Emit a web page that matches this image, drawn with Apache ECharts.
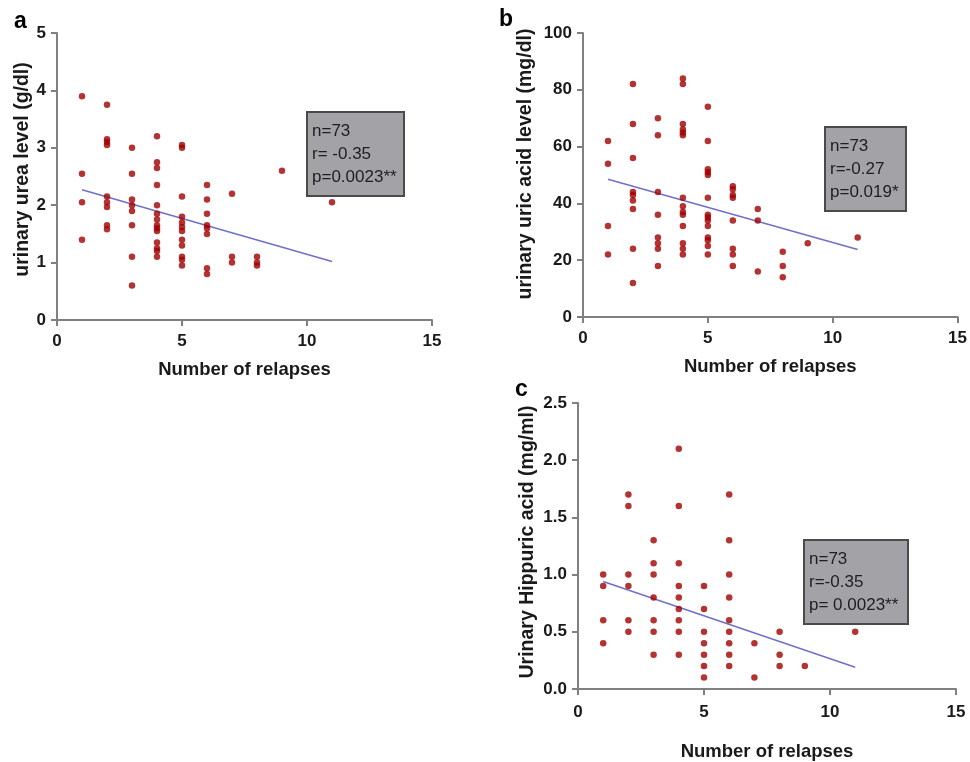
<!DOCTYPE html>
<html>
<head>
<meta charset="utf-8">
<script src="https://cdn.jsdelivr.net/npm/echarts@6/dist/echarts.min.js"></script>
<style>
html,body{margin:0;padding:0;background:#fff;}
#chart{width:970px;height:762px;}
</style>
</head>
<body>
<div id="chart"></div>
<script>
// ---------- DATA ----------
// Panel a: urinary urea level (g/dl) vs number of relapses
var relapsesA = [1,1,1,1, 2,2,2,2,2,2,2,2,2, 3,3,3,3,3,3,3,3,
  4,4,4,4,4,4,4,4,4,4,4,4,4,4, 5,5,5,5,5,5,5,5,5,5,5,5,
  6,6,6,6,6,6,6,6, 7,7,7, 8,8,8, 9, 11];
var ureaA = [3.9,2.55,2.05,1.4, 3.75,3.15,3.1,3.05,2.15,2.05,1.97,1.65,1.58, 3.0,2.55,2.1,2.0,1.9,1.65,1.1,0.6,
  3.2,2.75,2.65,2.35,2.0,1.85,1.75,1.65,1.6,1.55,1.35,1.25,1.2,1.1, 3.05,3.0,2.15,1.8,1.7,1.62,1.55,1.4,1.3,1.1,1.05,0.95,
  2.35,2.1,1.85,1.65,1.6,1.5,0.9,0.8, 2.2,1.1,1.0, 1.1,1.0,0.95, 2.6, 2.05];
var fitA = [[1,2.27],[11,1.02]];
var statsA = ['n=73','r= -0.35','p=0.0023**'];

// Panel b: urinary uric acid level (mg/dl)
var relapsesB = [1,1,1,1, 2,2,2,2,2,2,2,2,2, 3,3,3,3,3,3,3,3,
  4,4,4,4,4,4,4,4,4,4,4,4,4,4, 5,5,5,5,5,5,5,5,5,5,5,5,5,5,
  6,6,6,6,6,6,6,6, 7,7,7, 8,8,8, 9, 11];
var uricB = [62,54,32,22, 82,68,56,44,43,41,38,24,12, 70,64,44,36,28,26,24,18,
  84,82,68,66,65,64,42,39,37,36,32,26,24,22, 74,62,52,51,50,42,36,35,34,32,28,27,25,22,
  46,45,43,42,34,24,22,18, 38,34,16, 23,18,14, 26, 28];
var fitB = [[1,48.5],[11,23.8]];
var statsB = ['n=73','r=-0.27','p=0.019*'];

// Panel c: Urinary Hippuric acid (mg/ml)
var relapsesC = [1,1,1,1, 2,2,2,2,2,2, 3,3,3,3,3,3,3,
  4,4,4,4,4,4,4,4,4, 5,5,5,5,5,5,5, 6,6,6,6,6,6,6,6,6,
  7,7, 8,8,8, 9, 11];
var hippC = [1.0,0.9,0.6,0.4, 1.7,1.6,1.0,0.9,0.6,0.5, 1.3,1.1,1.0,0.8,0.6,0.5,0.3,
  2.1,1.6,1.1,0.9,0.8,0.7,0.6,0.5,0.3, 0.9,0.7,0.5,0.4,0.3,0.2,0.1, 1.7,1.3,1.0,0.8,0.6,0.5,0.4,0.3,0.2,
  0.4,0.1, 0.5,0.3,0.2, 0.2, 0.5];
var fitC = [[1,0.94],[11,0.19]];
var statsC = ['n=73','r=-0.35','p= 0.0023**'];

var xTitle = 'Number of relapses';
var yTitles = ['urinary urea level (g/dl)', 'urinary uric acid level (mg/dl)', 'Urinary Hippuric acid (mg/ml)'];
var panelLetters = ['a','b','c'];

// ---------- CHART ----------
function pairs(xs, ys){ return xs.map(function(x,i){ return [x, ys[i]]; }); }

var FONT = 'Liberation Sans, Arial, sans-serif';
var axisCol = '#808080';
var txtCol = '#1a1a1a';
var dotCol = '#a00000';
var lineCol = '#7070cc';

function xAxisCfg(gi, gap, labMargin){
  return {
    gridIndex: gi, type: 'value', min: 0, max: 15, interval: 5,
    name: xTitle, nameLocation: 'middle', nameGap: gap,
    nameTextStyle: {fontFamily: FONT, fontSize: 18.5, fontWeight: 'bold', color: txtCol},
    axisLine: {show: true, onZero: false, lineStyle: {color: axisCol, width: 2}},
    axisTick: {show: true, length: 6, lineStyle: {color: axisCol, width: 2}},
    axisLabel: {fontFamily: FONT, fontSize: 17, fontWeight: 'bold', color: txtCol, margin: labMargin},
    splitLine: {show: false}
  };
}
function yAxisCfg(gi, max, interval, name, gap, dec, shift){
  return {
    gridIndex: gi, type: 'value', min: 0, max: max, interval: interval,
    name: name, nameLocation: 'middle', nameGap: gap, nameRotate: 90,
    nameTextStyle: {fontFamily: FONT, fontSize: 19.5, fontWeight: 'bold', color: txtCol, padding: [0, 0, 0, shift]},
    axisLine: {show: true, onZero: false, lineStyle: {color: axisCol, width: 2}},
    axisTick: {show: true, length: 6, lineStyle: {color: axisCol, width: 2}},
    axisLabel: {fontFamily: FONT, fontSize: 17, fontWeight: 'bold', color: txtCol, margin: 11,
      formatter: function(v){ return dec ? v.toFixed(1) : String(v); }},
    splitLine: {show: false}
  };
}
function scatter(i, data){
  return {type: 'scatter', xAxisIndex: i, yAxisIndex: i, data: data, symbol: 'circle', symbolSize: 6.5,
    itemStyle: {color: dotCol}, silent: true, z: 3};
}
function fit(i, data){
  return {type: 'line', xAxisIndex: i, yAxisIndex: i, data: data, symbol: 'none',
    lineStyle: {color: lineCol, width: 1.6}, silent: true, z: 2};
}
function statBox(lines, left, top, padding){
  return {text: lines.join('\n'), left: left, top: top,
    backgroundColor: '#a3a3a7', borderColor: '#4a4a4a', borderWidth: 2, padding: padding,
    textStyle: {fontFamily: FONT, fontSize: 17, fontWeight: 'normal', color: '#1e1e1e', lineHeight: 23}};
}
function letter(t, left, top){
  return {text: t, left: left, top: top, padding: 0,
    textStyle: {fontFamily: FONT, fontSize: 23, fontWeight: 'bold', color: '#000'}};
}

var chart = echarts.init(document.getElementById('chart'), null, {renderer: 'canvas'});
chart.setOption({
  animation: false,
  backgroundColor: '#ffffff',
  grid: [
    {left: 57, top: 33, width: 375, height: 287},
    {left: 583, top: 33, width: 375, height: 284},
    {left: 578, top: 403, width: 378, height: 289}
  ],
  xAxis: [xAxisCfg(0, 40, 13), xAxisCfg(1, 40, 13), xAxisCfg(2, 53, 15)],
  yAxis: [
    yAxisCfg(0, 5, 1, yTitles[0], 24, false, 14),
    yAxisCfg(1, 100, 20, yTitles[1], 47, false, 22),
    yAxisCfg(2, 2.5, 0.5, yTitles[2], 40, true, 8)
  ],
  title: [
    letter(panelLetters[0], 14, 10),
    letter(panelLetters[1], 499, 8),
    letter(panelLetters[2], 515, 378),
    statBox(statsA, 307, 112, [8, 8, 7, 5]),
    statBox(statsB, 825, 127, [8, 8, 7, 5]),
    statBox(statsC, 804, 540, [8, 10, 7, 5])
  ],
  series: [
    fit(0, fitA), scatter(0, pairs(relapsesA, ureaA)),
    fit(1, fitB), scatter(1, pairs(relapsesB, uricB)),
    fit(2, fitC), scatter(2, pairs(relapsesC, hippC))
  ]
});
</script>
</body>
</html>
